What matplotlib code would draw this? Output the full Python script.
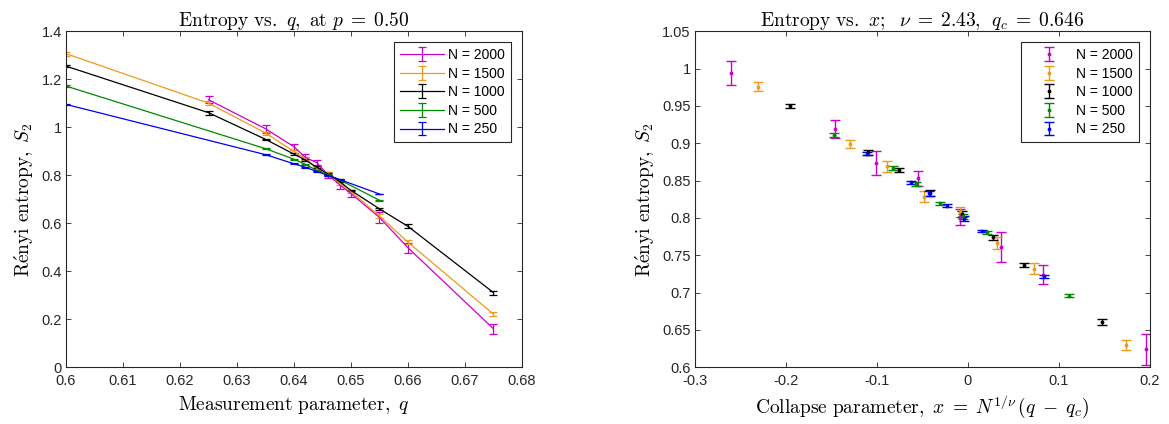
import matplotlib

matplotlib.use("Agg")
import matplotlib.pyplot as plt
import numpy as np
from matplotlib.ticker import FuncFormatter, MultipleLocator

plt.rcParams["font.family"] = ["Liberation Sans", "DejaVu Sans"]
plt.rcParams["mathtext.fontset"] = "cm"
plt.rcParams["axes.unicode_minus"] = False
plt.rcParams["axes.edgecolor"] = "#262626"
plt.rcParams["xtick.color"] = "#262626"
plt.rcParams["ytick.color"] = "#262626"

# system sizes and colours, largest first (legend order)
SIZES = [2000, 1500, 1000, 500, 250]
COLORS = ["#cc00cc", "#ee9a1c", "#000000", "#008a00", "#0000ee"]

# measured Renyi-2 entropy vs measurement parameter q, with error bars
Q_2000 = [0.625, 0.635, 0.640, 0.642, 0.644, 0.646, 0.648, 0.650, 0.655, 0.660, 0.675]
S_2000 = [1.115, 0.994, 0.919, 0.874, 0.853, 0.801, 0.761, 0.724, 0.624, 0.498, 0.160]
E_2000 = [0.015, 0.016, 0.012, 0.016, 0.010, 0.011, 0.020, 0.013, 0.021, 0.020, 0.020]

Q_1500 = [0.600, 0.625, 0.635, 0.640, 0.642, 0.644, 0.646, 0.648, 0.650, 0.655, 0.660, 0.675]
S_1500 = [1.307, 1.101, 0.976, 0.899, 0.869, 0.8285, 0.808, 0.767, 0.732, 0.630, 0.521, 0.221]
E_1500 = [0.009, 0.010, 0.006, 0.005, 0.007, 0.007, 0.007, 0.008, 0.007, 0.007, 0.008, 0.008]

Q_1000 = [0.600, 0.625, 0.635, 0.640, 0.642, 0.644, 0.646, 0.648, 0.650, 0.655, 0.660, 0.675]
S_1000 = [1.255, 1.061, 0.950, 0.888, 0.864, 0.833, 0.805, 0.774, 0.737, 0.660, 0.587, 0.311]
E_1000 = [0.004, 0.008, 0.003, 0.003, 0.003, 0.004, 0.004, 0.003, 0.003, 0.004, 0.008, 0.008]

Q_500 = [0.600, 0.635, 0.640, 0.642, 0.644, 0.646, 0.648, 0.655]
S_500 = [1.172, 0.911, 0.867, 0.8455, 0.820, 0.802, 0.781, 0.696]
E_500 = [0.003, 0.003, 0.003, 0.003, 0.002, 0.003, 0.002, 0.002]

Q_250 = [0.600, 0.635, 0.640, 0.642, 0.644, 0.646, 0.648, 0.655]
S_250 = [1.0955, 0.886, 0.848, 0.833, 0.8164, 0.799, 0.7825, 0.722]
E_250 = [0.003, 0.002, 0.002, 0.003, 0.002, 0.003, 0.002, 0.002]

# finite-size scaling fit
NU = 2.43
Q_C = 0.6464

series = [
    (Q_2000, S_2000, E_2000),
    (Q_1500, S_1500, E_1500),
    (Q_1000, S_1000, E_1000),
    (Q_500, S_500, E_500),
    (Q_250, S_250, E_250),
]

g_fmt = FuncFormatter(lambda v, _: f"{v:g}")


def style_axes(ax):
    ax.tick_params(direction="in", top=True, right=True, length=3.5,
                   width=0.6, labelsize=10.5)
    ax.tick_params(axis="x", pad=5)
    ax.tick_params(axis="y", pad=3)
    for sp in ax.spines.values():
        sp.set_linewidth(0.8)
    ax.xaxis.set_major_formatter(g_fmt)
    ax.yaxis.set_major_formatter(g_fmt)


fig = plt.figure(figsize=(11.69, 4.24), dpi=100)
ax1 = fig.add_axes([0.0565, 0.134, 0.390, 0.792])
ax2 = fig.add_axes([0.5945, 0.134, 0.389, 0.792])

for n, col, (q, s, e) in zip(SIZES, COLORS, series):
    ax1.errorbar(q, s, yerr=e, color=col, lw=0.9, capsize=3.2, capthick=0.9,
                 label=f"N = {n}")

ax1.set_xlim(0.6, 0.68)
ax1.set_ylim(0, 1.4)
ax1.xaxis.set_major_locator(MultipleLocator(0.01))
ax1.yaxis.set_major_locator(MultipleLocator(0.2))
style_axes(ax1)
ax1.set_title(r"$\mathrm{Entropy\ vs.}\ q\mathrm{,\ at}\ p\;=\;0.50$", fontsize=14, pad=4)
ax1.set_xlabel(r"$\mathrm{Measurement\ parameter,}\ q$", fontsize=14, labelpad=4)
ax1.set_ylabel(r"$\mathrm{R\acute{e}nyi\ entropy,}\ S_2$", fontsize=14, labelpad=4)
leg1 = ax1.legend(loc="upper right", fontsize=10, fancybox=False, framealpha=1,
                  edgecolor="#262626", handlelength=3.2, labelspacing=0.33,
                  borderaxespad=0.8, handletextpad=0.3)
leg1.get_frame().set_linewidth(0.8)

# data collapse: x = N^(1/nu) (q - q_c)
for n, col, (q, s, e) in zip(SIZES, COLORS, series):
    x = n ** (1 / NU) * (np.array(q) - Q_C)
    ax2.errorbar(x, s, yerr=e, color=col, fmt=".", ms=3.5, lw=1.0, capsize=3.5,
                 capthick=1.0, label=f"N = {n}")

ax2.set_xlim(-0.3, 0.2)
ax2.set_ylim(0.6, 1.05)
ax2.xaxis.set_major_locator(MultipleLocator(0.1))
ax2.yaxis.set_major_locator(MultipleLocator(0.05))
style_axes(ax2)
ax2.set_title(r"$\mathrm{Entropy\ vs.}\ x\mathrm{;}\ \ \nu\;=\;2.43\mathrm{,}\ \ q_c\;=\;0.646$",
              fontsize=14, pad=4)
ax2.set_xlabel(r"$\mathrm{Collapse\ parameter,}\ x\;=\;N^{1/\nu}\,(q\;-\;q_c)$",
               fontsize=14, labelpad=4)
ax2.set_ylabel(r"$\mathrm{R\acute{e}nyi\ entropy,}\ S_2$", fontsize=14, labelpad=4)
leg2 = ax2.legend(loc="upper right", fontsize=10, fancybox=False, framealpha=1,
                  edgecolor="#262626", handlelength=3.2, labelspacing=0.33,
                  borderaxespad=0.8, handletextpad=0.35)
leg2.get_frame().set_linewidth(0.8)

fig.savefig("out.png", dpi=100)
